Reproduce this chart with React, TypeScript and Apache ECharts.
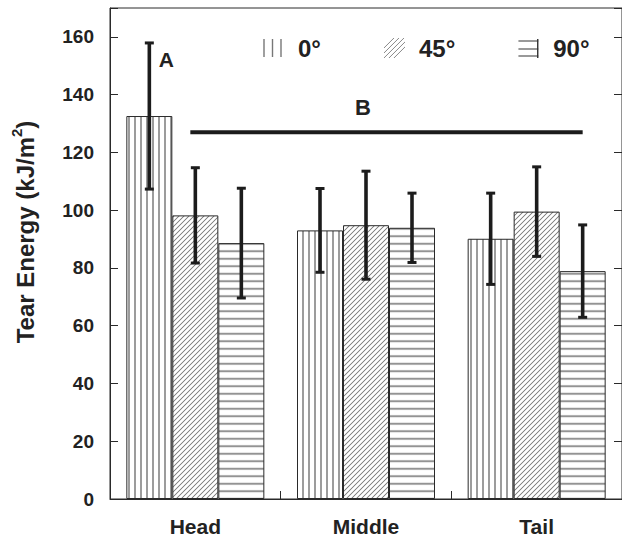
import React, { useEffect, useRef } from 'react';
import * as echarts from 'echarts';

const categories = ['Head', 'Middle', 'Tail'];
const seriesNames = ['0°', '45°', '90°'];
const values0 = [132.6, 93.0, 90.1];
const values45 = [98.2, 94.8, 99.5];
const values90 = [88.6, 93.9, 78.9];
const err0 = [25.3, 14.5, 15.8];
const err45 = [16.5, 18.7, 15.5];
const err90 = [19.0, 12.0, 16.0];
const sigLabels = ['A', 'B'];
const sigCategory = [0, 1];
const sigValues = [152, 135.4];
const bracketValue = 127;
const bracketFrom = 0;
const bracketTo = 2;

const FONT = '"Liberation Sans", Arial, Helvetica, sans-serif';
const BAR_W = 46;
const INK = '#1c1c1c';

function makeTile(kind: string, size: number) {
  const s = 4;
  const c = document.createElement('canvas');
  c.width = Math.round(size * s);
  c.height = Math.round(size * s);
  const ctx = c.getContext('2d')!;
  ctx.fillStyle = '#ffffff';
  ctx.fillRect(0, 0, c.width, c.height);
  ctx.fillStyle = '#5a5a5a';
  ctx.strokeStyle = '#6a6a6a';
  if (kind === 'v') {
    ctx.fillRect(c.width / 2 - 0.6 * s, 0, 1.2 * s, c.height);
  } else if (kind === 'h') {
    ctx.fillRect(0, c.height / 2 - 0.6 * s, c.width, 1.2 * s);
  } else {
    const w = c.width;
    ctx.lineWidth = 0.8 * s;
    ctx.beginPath();
    ctx.moveTo(0, w); ctx.lineTo(w, 0);
    ctx.moveTo(-w / 2, w / 2); ctx.lineTo(w / 2, -w / 2);
    ctx.moveTo(w / 2, w * 1.5); ctx.lineTo(w * 1.5, w / 2);
    ctx.stroke();
  }
  return { image: c, repeat: 'repeat', imageWidth: size, imageHeight: size } as any;
}

function svgIcon(inner: string) {
  const svg = `<svg xmlns="http://www.w3.org/2000/svg" width="30" height="20" viewBox="0 0 30 20">${inner}</svg>`;
  return 'image://data:image/svg+xml;charset=utf-8,' + encodeURIComponent(svg);
}

const icon0 = svgIcon(
  '<g stroke="#777" stroke-width="1.4"><line x1="1" y1="1" x2="1" y2="19"/><line x1="9.5" y1="1" x2="9.5" y2="19"/><line x1="18" y1="1" x2="18" y2="19"/></g>'
);
const icon45 = svgIcon(
  '<defs><clipPath id="c"><rect x="0" y="0" width="21" height="20"/></clipPath></defs><g clip-path="url(#c)" stroke="#888" stroke-width="1"><line x1="-5" y1="20" x2="15" y2="0"/><line x1="0" y1="20" x2="20" y2="0"/><line x1="5" y1="20" x2="25" y2="0"/><line x1="10" y1="20" x2="30" y2="0"/><line x1="-10" y1="20" x2="10" y2="0"/></g>'
);
const icon90 = svgIcon(
  '<g stroke="#777" stroke-width="1.4"><line x1="0" y1="3" x2="20" y2="3"/><line x1="0" y1="11" x2="20" y2="11"/><line x1="0" y1="18" x2="20" y2="18"/></g><line x1="19.5" y1="1" x2="19.5" y2="20" stroke="#333" stroke-width="1.4"/>'
);

export default function App() {
  const ref = useRef<HTMLDivElement>(null);
  useEffect(() => {
    if (!ref.current) return;
    const chart = echarts.init(ref.current, null, { renderer: 'svg' });
    const patterns = [makeTile('v', 6), makeTile('d', 5), makeTile('h', 7.5)];
    const vals = [values0, values45, values90];
    const errs = [err0, err45, err90];

    const barSeries = vals.map((v, i) => ({
      type: 'bar',
      name: seriesNames[i],
      data: v,
      barWidth: BAR_W,
      barGap: '0%',
      itemStyle: { color: patterns[i], borderColor: '#2a2a2a', borderWidth: 1 },
      z: 2,
    }));

    const errSeries = vals.map((v, idx) => ({
      type: 'custom',
      name: 'err' + idx,
      data: v.map((val, i) => [i, val, errs[idx][i]]),
      encode: { x: 0, y: 1 },
      z: 5,
      renderItem: (params: any, api: any) => {
        const c = api.value(0);
        const m = api.value(1);
        const e = api.value(2);
        const top = api.coord([c, m + e]);
        const bot = api.coord([c, m - e]);
        const x = top[0] + (idx - 1) * BAR_W;
        return {
          type: 'group',
          children: [
            { type: 'line', shape: { x1: x, y1: top[1], x2: x, y2: bot[1] }, style: { stroke: INK, lineWidth: 3.6 } },
            { type: 'line', shape: { x1: x - 4.5, y1: top[1], x2: x + 4.5, y2: top[1] }, style: { stroke: INK, lineWidth: 3 } },
            { type: 'line', shape: { x1: x - 4.5, y1: bot[1], x2: x + 4.5, y2: bot[1] }, style: { stroke: INK, lineWidth: 3 } },
          ],
        };
      },
    }));

    const bracketSeries = {
      type: 'custom',
      name: 'bracket',
      data: [[bracketFrom, bracketValue, bracketTo]],
      encode: { x: 0, y: 1 },
      z: 6,
      renderItem: (params: any, api: any) => {
        const a = api.coord([api.value(0), api.value(1)]);
        const b = api.coord([api.value(2), api.value(1)]);
        return {
          type: 'line',
          shape: { x1: a[0] - 5, y1: a[1], x2: b[0] + BAR_W, y2: b[1] },
          style: { stroke: INK, lineWidth: 4 },
        };
      },
    };

    const labelSeries = {
      type: 'custom',
      name: 'sig',
      data: sigLabels.map((l, i) => [sigCategory[i], sigValues[i], i]),
      encode: { x: 0, y: 1 },
      z: 6,
      renderItem: (params: any, api: any) => {
        const p = api.coord([api.value(0), api.value(1)]);
        const i = api.value(2);
        const dx = i === 0 ? -BAR_W + 17 : -3;
        return {
          type: 'text',
          x: p[0] + dx,
          y: p[1],
          style: {
            text: sigLabels[i],
            fill: '#222',
            fontSize: i === 0 ? 21 : 22,
            fontWeight: 'bold',
            fontFamily: FONT,
            align: 'center',
            verticalAlign: 'middle',
          },
        };
      },
    };

    chart.setOption({
      animation: false,
      grid: { left: 110, top: 8, width: 516, height: 491, show: true, borderColor: '#2a2a2a', borderWidth: 1, backgroundColor: 'transparent' },
      legend: {
        left: 258,
        top: 31,
        itemWidth: 30,
        itemHeight: 20,
        itemGap: 63,
        selectedMode: false,
        data: [
          { name: seriesNames[0], icon: icon0 },
          { name: seriesNames[1], icon: icon45 },
          { name: seriesNames[2], icon: icon90 },
        ],
        textStyle: { fontSize: 24, fontWeight: 'bold', color: '#222', fontFamily: FONT },
      },
      xAxis: {
        type: 'category',
        data: categories,
        axisLine: { show: true, lineStyle: { color: '#2a2a2a', width: 1 } },
        axisTick: { show: true, inside: true, length: 8, alignWithLabel: false, lineStyle: { color: '#2a2a2a' } },
        axisLabel: { margin: 17, fontSize: 21, fontWeight: 'bold', color: '#222', fontFamily: FONT },
        splitLine: { show: false },
      },
      yAxis: [
        {
          type: 'value',
          min: 0,
          max: 170,
          interval: 20,
          axisLine: { show: true, lineStyle: { color: '#2a2a2a' } },
          axisTick: { show: true, inside: true, length: 8, lineStyle: { color: '#2a2a2a' } },
          axisLabel: {
            margin: 16,
            fontSize: 19,
            fontWeight: 'bold',
            color: '#222',
            fontFamily: FONT,
            formatter: (v: number) => (v > 160 ? '' : String(v)),
          },
          splitLine: { show: false },
        },
        {
          type: 'value',
          position: 'right',
          min: 0,
          max: 170,
          interval: 20,
          axisLine: { show: true, lineStyle: { color: '#2a2a2a' } },
          axisTick: { show: true, inside: true, length: 8, lineStyle: { color: '#2a2a2a' } },
          axisLabel: { show: false },
          splitLine: { show: false },
        },
      ],
      graphic: [
        {
          type: 'text',
          x: 23,
          y: 232,
          rotation: Math.PI / 2,
          style: {
            text: '{a|Tear Energy (kJ/m}{s|2}{a|)}',
            align: 'center',
            verticalAlign: 'middle',
            fill: '#222',
            rich: {
              a: { fontSize: 24, fontWeight: 'bold', fontFamily: FONT, fill: '#222', lineHeight: 28, verticalAlign: 'bottom' },
              s: { fontSize: 15, fontWeight: 'bold', fontFamily: FONT, fill: '#222', lineHeight: 28, verticalAlign: 'top' },
            },
          },
        },
      ],
      series: [...barSeries, ...errSeries, bracketSeries, labelSeries],
    } as any);
    return () => chart.dispose();
  }, []);
  return <div ref={ref} style={{ position: 'fixed', left: 0, top: 0, width: 622, height: 543, background: '#fff' }} />;
}
